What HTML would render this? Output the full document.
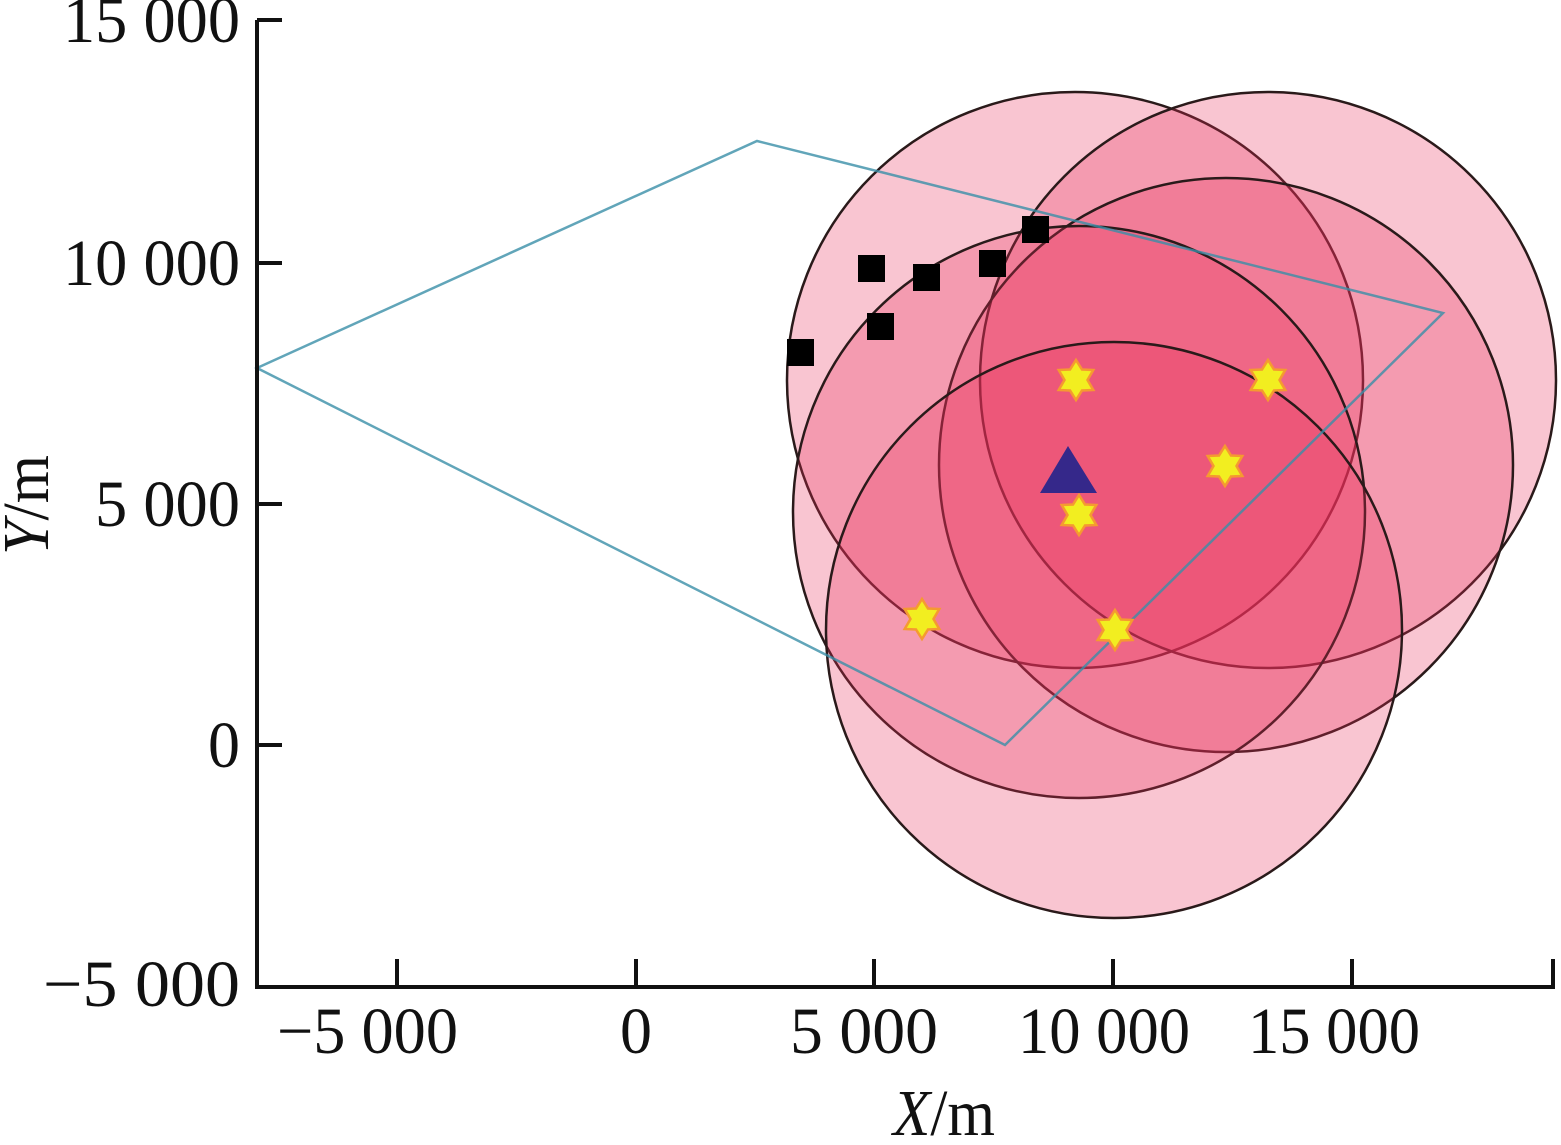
<!DOCTYPE html>
<html><head><style>html,body{margin:0;padding:0;background:#fff}</style></head>
<body>
<svg width="1561" height="1140" xmlns="http://www.w3.org/2000/svg" font-family="'Liberation Serif',serif">
<defs>
<g id="st"><polygon points="0,-20 6,-10.5 17.3,-10 11.5,0 17.3,10 6,10.5 0,20 -6,10.5 -17.3,10 -11.5,0 -17.3,-10 -6,-10.5" fill="#f2ee20" stroke="#f59a30" stroke-width="2.5"/></g>
</defs>
<g fill="rgba(232,48,88,0.28)" stroke="#2a1a1a" stroke-width="2.5">
<circle cx="1075" cy="380" r="288"/>
<circle cx="1268" cy="380" r="288"/>
<circle cx="1226" cy="465" r="287"/>
<circle cx="1079" cy="512" r="286"/>
<circle cx="1114" cy="630" r="288"/>
</g>
<polygon points="257,368 757,141 1443,313 1005,745" fill="none" stroke="#3a8fa8" stroke-width="2.5" stroke-opacity="0.8"/>
<g fill="#000">
<rect x="787" y="339" width="27" height="27"/>
<rect x="867" y="313" width="27" height="27"/>
<rect x="858" y="255" width="27" height="27"/>
<rect x="913" y="264" width="27" height="27"/>
<rect x="979" y="250" width="27" height="27"/>
<rect x="1022" y="216" width="27" height="27"/>
</g>
<use href="#st" x="1076" y="380"/><use href="#st" x="1268" y="380"/><use href="#st" x="1225" y="466"/>
<use href="#st" x="1079" y="515"/><use href="#st" x="922" y="619"/><use href="#st" x="1115" y="630"/>
<polygon points="1068,446 1040,493 1097,493" fill="#35288a"/>
<g stroke="#111" stroke-width="4" fill="none">
<path d="M257,20 V987 H1555"/>
<path d="M257,20 H282 M257,263 H282 M257,504 H282 M257,745 H282"/>
<path d="M397,987 V959 M636,987 V959 M874,987 V959 M1113,987 V959 M1352,987 V959 M1553,987 V959"/>
</g>
<g font-size="66" fill="#111">
<text x="63" y="42" textLength="177" lengthAdjust="spacingAndGlyphs">15 000</text>
<text x="63" y="285" textLength="177" lengthAdjust="spacingAndGlyphs">10 000</text>
<text x="95" y="526" textLength="145" lengthAdjust="spacingAndGlyphs">5 000</text>
<text x="208" y="767" textLength="32" lengthAdjust="spacingAndGlyphs">0</text>
<text x="43" y="1006" textLength="197" lengthAdjust="spacingAndGlyphs">−5 000</text>
<text x="277" y="1053" textLength="181" lengthAdjust="spacingAndGlyphs">−5 000</text>
<text x="620" y="1053" textLength="32" lengthAdjust="spacingAndGlyphs">0</text>
<text x="790" y="1053" textLength="148" lengthAdjust="spacingAndGlyphs">5 000</text>
<text x="1018" y="1053" textLength="172" lengthAdjust="spacingAndGlyphs">10 000</text>
<text x="1248" y="1053" textLength="172" lengthAdjust="spacingAndGlyphs">15 000</text>
<text x="893" y="1135" textLength="102" lengthAdjust="spacingAndGlyphs"><tspan font-style="italic">X</tspan>/m</text>
<text transform="translate(48,555) rotate(-90)" textLength="100" lengthAdjust="spacingAndGlyphs"><tspan font-style="italic">Y</tspan>/m</text>
</g>
</svg>
</body></html>
